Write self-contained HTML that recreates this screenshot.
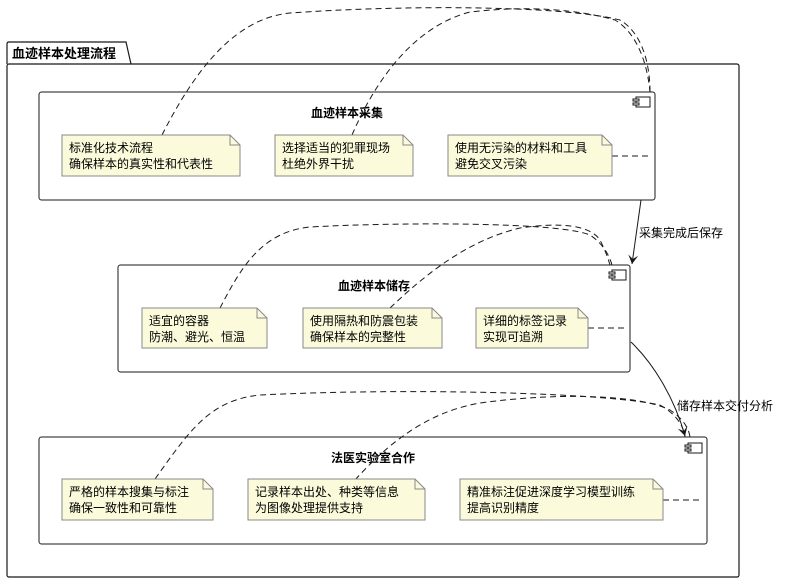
<!DOCTYPE html>
<html><head><meta charset="utf-8"><style>
body{margin:0;background:#fff;}
svg text{font-family:"Liberation Sans","Noto Sans CJK SC",sans-serif;}
</style></head><body>
<svg width="788" height="582" xmlns="http://www.w3.org/2000/svg">
<defs><marker id="a" markerWidth="10" markerHeight="10" refX="9" refY="5" orient="auto" markerUnits="userSpaceOnUse"><path d="M0,0 L9,5 L0,10 L4,5 Z" fill="#181818"/></marker></defs>
<!-- package -->
<path d="M7,64 L7,44 Q7,42 9,42 L126,42 L131,64" fill="none" stroke="#181818" stroke-width="1.2"/>
<rect x="7" y="64" width="732" height="513" rx="2" fill="none" stroke="#181818" stroke-width="1.2"/>
<text x="12" y="58" font-size="13" font-weight="bold">血迹样本处理流程</text>
<!-- components -->
<g fill="#fff" stroke="#181818" stroke-width="1">
<rect x="39" y="92" width="616" height="108" rx="2.5"/>
<rect x="118" y="265" width="512" height="107" rx="2.5"/>
<rect x="39" y="437" width="668" height="107" rx="2.5"/>
</g>
<g fill="#fff" stroke="#181818" stroke-width="1">
<rect x="636" y="97" width="14" height="10"/><rect x="633" y="99" width="6" height="2"/><rect x="633" y="103" width="6" height="2"/>
<rect x="612" y="270" width="14" height="10"/><rect x="609" y="272" width="6" height="2"/><rect x="609" y="276" width="6" height="2"/>
<rect x="688" y="443" width="14" height="10"/><rect x="685" y="445" width="6" height="2"/><rect x="685" y="449" width="6" height="2"/>
</g>
<g font-size="12" font-weight="bold" text-anchor="middle">
<text x="347" y="117">血迹样本采集</text>
<text x="374" y="290">血迹样本储存</text>
<text x="373" y="462">法医实验室合作</text>
</g>
<!-- dashed connectors -->
<g fill="none" stroke="#181818" stroke-width="1" stroke-dasharray="6,4">
<path d="M162,135 C200,60 240,18 290,13 C400,5 560,5 620,20 C645,35 650,70 650,92"/>
<path d="M352,135 C380,70 420,25 470,12 C530,5 580,10 615,20 C640,35 648,70 650,92"/>
<line x1="612" y1="156" x2="650" y2="156"/>
<path d="M220,308 C240,270 260,232 310,227 C400,222 560,222 590,235 C605,245 610,258 612,265"/>
<path d="M390,308 C430,270 470,240 520,228 C560,222 590,225 600,240 C605,250 608,258 610,265"/>
<line x1="588" y1="328" x2="625" y2="328"/>
<path d="M155,479 C190,430 210,400 260,395 C400,388 600,392 660,405 C678,415 684,428 685,437"/>
<path d="M355,480 C400,430 440,410 480,403 C560,392 640,395 670,410 C685,420 689,430 690,437"/>
<line x1="663" y1="500" x2="700" y2="500"/>
</g>
<!-- notes -->
<g fill="#fbfbdc" stroke="#888" stroke-width="1">
<path d="M62,135 L230,135 L240,145 L240,176 L62,176 Z"/>
<path d="M275,135 L403,135 L413,145 L413,176 L275,176 Z"/>
<path d="M448,135 L602,135 L612,145 L612,176 L448,176 Z"/>
<path d="M142,308 L257,308 L267,318 L267,348 L142,348 Z"/>
<path d="M303,308 L432,308 L442,318 L442,348 L303,348 Z"/>
<path d="M476,308 L578,308 L588,318 L588,348 L476,348 Z"/>
<path d="M62,479 L203,479 L213,489 L213,520 L62,520 Z"/>
<path d="M248,479 L415,479 L425,489 L425,520 L248,520 Z"/>
<path d="M460,479 L653,479 L663,489 L663,520 L460,520 Z"/>
</g>
<g fill="none" stroke="#888" stroke-width="1">
<path d="M230,135 L230,145 L240,145"/><path d="M403,135 L403,145 L413,145"/><path d="M602,135 L602,145 L612,145"/>
<path d="M257,308 L257,318 L267,318"/><path d="M432,308 L432,318 L442,318"/><path d="M578,308 L578,318 L588,318"/>
<path d="M203,479 L203,489 L213,489"/><path d="M415,479 L415,489 L425,489"/><path d="M653,479 L653,489 L663,489"/>
</g>
<g font-size="12" fill="#000">
<text x="69" y="152">标准化技术流程</text><text x="69" y="168">确保样本的真实性和代表性</text>
<text x="282" y="152">选择适当的犯罪现场</text><text x="282" y="168">杜绝外界干扰</text>
<text x="455" y="152">使用无污染的材料和工具</text><text x="455" y="168">避免交叉污染</text>
<text x="149" y="325">适宜的容器</text><text x="149" y="341">防潮、避光、恒温</text>
<text x="310" y="325">使用隔热和防震包装</text><text x="310" y="341">确保样本的完整性</text>
<text x="483" y="325">详细的标签记录</text><text x="483" y="341">实现可追溯</text>
<text x="69" y="496">严格的样本搜集与标注</text><text x="69" y="512">确保一致性和可靠性</text>
<text x="255" y="496">记录样本出处、种类等信息</text><text x="255" y="512">为图像处理提供支持</text>
<text x="467" y="496">精准标注促进深度学习模型训练</text><text x="467" y="512">提高识别精度</text>
</g>
<!-- solid arrows -->
<g fill="none" stroke="#181818" stroke-width="1">
<line x1="641" y1="200" x2="632" y2="264" marker-end="url(#a)"/>
<path d="M631,342 C655,365 675,400 685,436" marker-end="url(#a)"/>
</g>
<g font-size="12"><text x="639" y="237">采集完成后保存</text><text x="677" y="410">储存样本交付分析</text></g>
</svg>
</body></html>
